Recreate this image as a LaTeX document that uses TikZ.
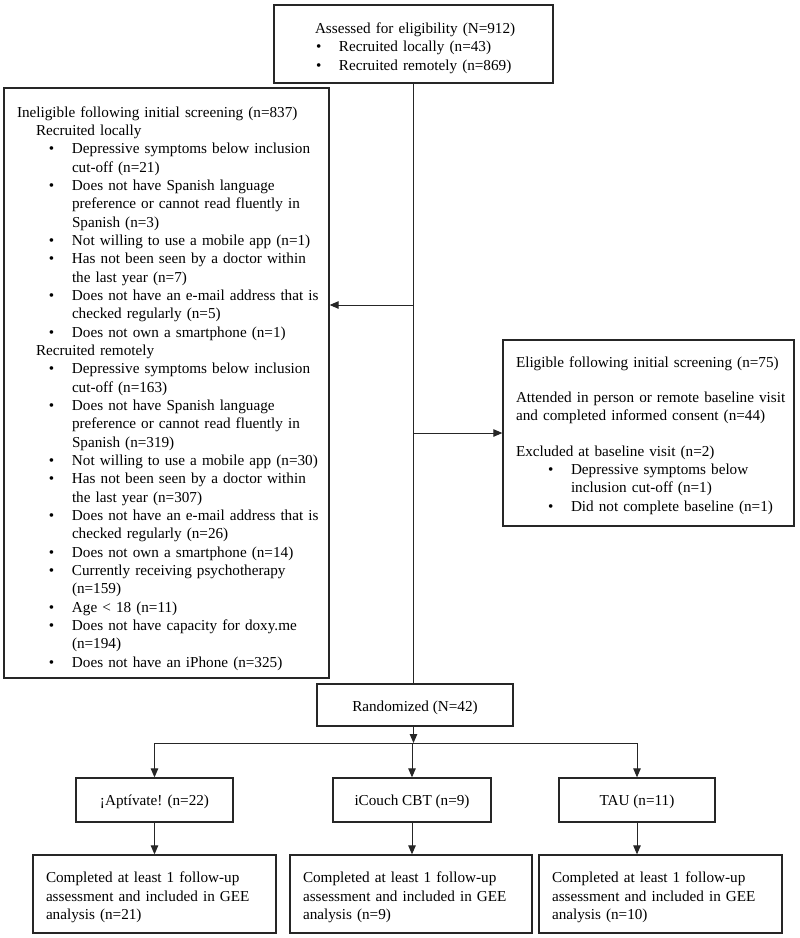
\documentclass[tikz,border=0pt]{standalone}
\usepackage{fontspec}
\setmainfont{Liberation Serif}
\usetikzlibrary{arrows.meta}
\newcommand{\BL}[2]{\hspace*{#1}\makebox[26pt][l]{\hspace*{3pt}\textbullet}\mbox{#2}}
\newcommand{\CL}[2]{\hspace*{#1}\hspace*{26pt}\mbox{#2}}
\newcommand{\PL}[1]{\mbox{#1}}
\begin{document}
\begin{tikzpicture}[x=1pt,y=-1pt,
  every node/.style={font=\fontsize{15.2}{18.33}\selectfont, text=black},
  frame/.style={draw=black!85, line width=1.3pt, inner sep=0pt},
  txt/.style={inner sep=0pt, align=left},
  arr/.style={draw=black!85, line width=1pt, -{Triangle[length=9pt,width=7.5pt]}},
  ln/.style={draw=black!85, line width=1pt}]
\useasboundingbox (0,0) rectangle (800,938);
\fill[white] (0,0) rectangle (800,938);

% frames
\node[frame, minimum width=279pt, minimum height=78pt] (top) at (413.5,44) {};
\node[frame, minimum width=325pt, minimum height=590pt] (inel) at (166.5,383) {};
\node[frame, minimum width=291pt, minimum height=186pt] (elig) at (648.5,433) {};
\node[frame, minimum width=196pt, minimum height=42pt] (rand) at (415,705) {};
\node[frame, minimum width=157pt, minimum height=44pt] (a1) at (154.5,800) {};
\node[frame, minimum width=158pt, minimum height=44pt] (a2) at (412,800) {};
\node[frame, minimum width=156pt, minimum height=44pt] (a3) at (637,800) {};
\node[frame, minimum width=243pt, minimum height=78pt] (c1) at (154.5,894) {};
\node[frame, minimum width=242pt, minimum height=78pt] (c2) at (411,894) {};
\node[frame, minimum width=243pt, minimum height=78pt] (c3) at (660.5,894) {};

% texts
\node[txt, text width=197pt] (topt) at ([yshift=-4pt]top.center)
 {\PL{Assessed for eligibility (N=912)}\\
  \BL{-2pt}{Recruited locally (n=43)}\\
  \BL{-2pt}{Recruited remotely (n=869)}};

\node[txt, text width=299pt] (inelt) at ([yshift=-5.5pt]inel.center)
 {\PL{Ineligible following initial screening (n=837)}\\
  \hspace*{19pt}\PL{Recruited locally}\\
  \BL{29pt}{Depressive symptoms below inclusion}\\
  \CL{29pt}{cut-off (n=21)}\\
  \BL{29pt}{Does not have Spanish language}\\
  \CL{29pt}{preference or cannot read fluently in}\\
  \CL{29pt}{Spanish (n=3)}\\
  \BL{29pt}{Not willing to use a mobile app (n=1)}\\
  \BL{29pt}{Has not been seen by a doctor within}\\
  \CL{29pt}{the last year (n=7)}\\
  \BL{29pt}{Does not have an e-mail address that is}\\
  \CL{29pt}{checked regularly (n=5)}\\
  \BL{29pt}{Does not own a smartphone (n=1)}\\
  \hspace*{19pt}\PL{Recruited remotely}\\
  \BL{29pt}{Depressive symptoms below inclusion}\\
  \CL{29pt}{cut-off (n=163)}\\
  \BL{29pt}{Does not have Spanish language}\\
  \CL{29pt}{preference or cannot read fluently in}\\
  \CL{29pt}{Spanish (n=319)}\\
  \BL{29pt}{Not willing to use a mobile app (n=30)}\\
  \BL{29pt}{Has not been seen by a doctor within}\\
  \CL{29pt}{the last year (n=307)}\\
  \BL{29pt}{Does not have an e-mail address that is}\\
  \CL{29pt}{checked regularly (n=26)}\\
  \BL{29pt}{Does not own a smartphone (n=14)}\\
  \BL{29pt}{Currently receiving psychotherapy}\\
  \CL{29pt}{(n=159)}\\
  \BL{29pt}{Age < 18 (n=11)}\\
  \BL{29pt}{Does not have capacity for doxy.me}\\
  \CL{29pt}{(n=194)}\\
  \BL{29pt}{Does not have an iPhone (n=325)}};

\node[txt, text width=265pt] (eligt) at ([yshift=-2.5pt]elig.center)
 {\PL{Eligible following initial screening (n=75)}\\[17pt]
  \PL{Attended in person or remote baseline visit}\\
  \PL{and completed informed consent (n=44)}\\[17pt]
  \PL{Excluded at baseline visit (n=2)}\\
  \BL{29pt}{Depressive symptoms below}\\
  \CL{29pt}{inclusion cut-off (n=1)}\\
  \BL{29pt}{Did not complete baseline (n=1)}};

\node[txt] (randt) at ([yshift=-3pt]rand.center) {Randomized (N=42)};
\node[txt] (a1t) at ([yshift=-2pt]a1.center) {¡Aptívate! (n=22)};
\node[txt] (a2t) at ([yshift=-2pt]a2.center) {iCouch CBT (n=9)};
\node[txt] (a3t) at ([yshift=-2pt]a3.center) {TAU (n=11)};

\node[txt, text width=217pt] (c1t) at ([yshift=-3.5pt]c1.center)
 {\PL{Completed at least 1 follow-up}\\\PL{assessment and included in GEE}\\\PL{analysis (n=21)}};
\node[txt, text width=216pt] (c2t) at ([yshift=-3.5pt]c2.center)
 {\PL{Completed at least 1 follow-up}\\\PL{assessment and included in GEE}\\\PL{analysis (n=9)}};
\node[txt, text width=217pt] (c3t) at ([yshift=-3.5pt]c3.center)
 {\PL{Completed at least 1 follow-up}\\\PL{assessment and included in GEE}\\\PL{analysis (n=10)}};

\coordinate (yL) at (0,305);
\coordinate (yR) at (0,433);
\coordinate (yH) at (0,743);

\draw[ln] (top.south) -- (top.south |- rand.north);
\draw[arr] (top.south |- yL) -- (inel.east |- yL);
\draw[arr] (top.south |- yR) -- (elig.west |- yR);

\draw[arr] (rand.south -| top.south) -- (top.south |- yH);
\draw[ln] (a1.north |- yH) -- (a3.north |- yH);
\draw[arr] (a1.north |- yH) -- (a1.north);
\draw[arr] (a2.north |- yH) -- (a2.north);
\draw[arr] (a3.north |- yH) -- (a3.north);

\draw[arr] (a1.south) -- (a1.south |- c1.north);
\draw[arr] (a2.south) -- (a2.south |- c2.north);
\draw[arr] (a3.south) -- (a3.south |- c3.north);
\end{tikzpicture}
\end{document}
